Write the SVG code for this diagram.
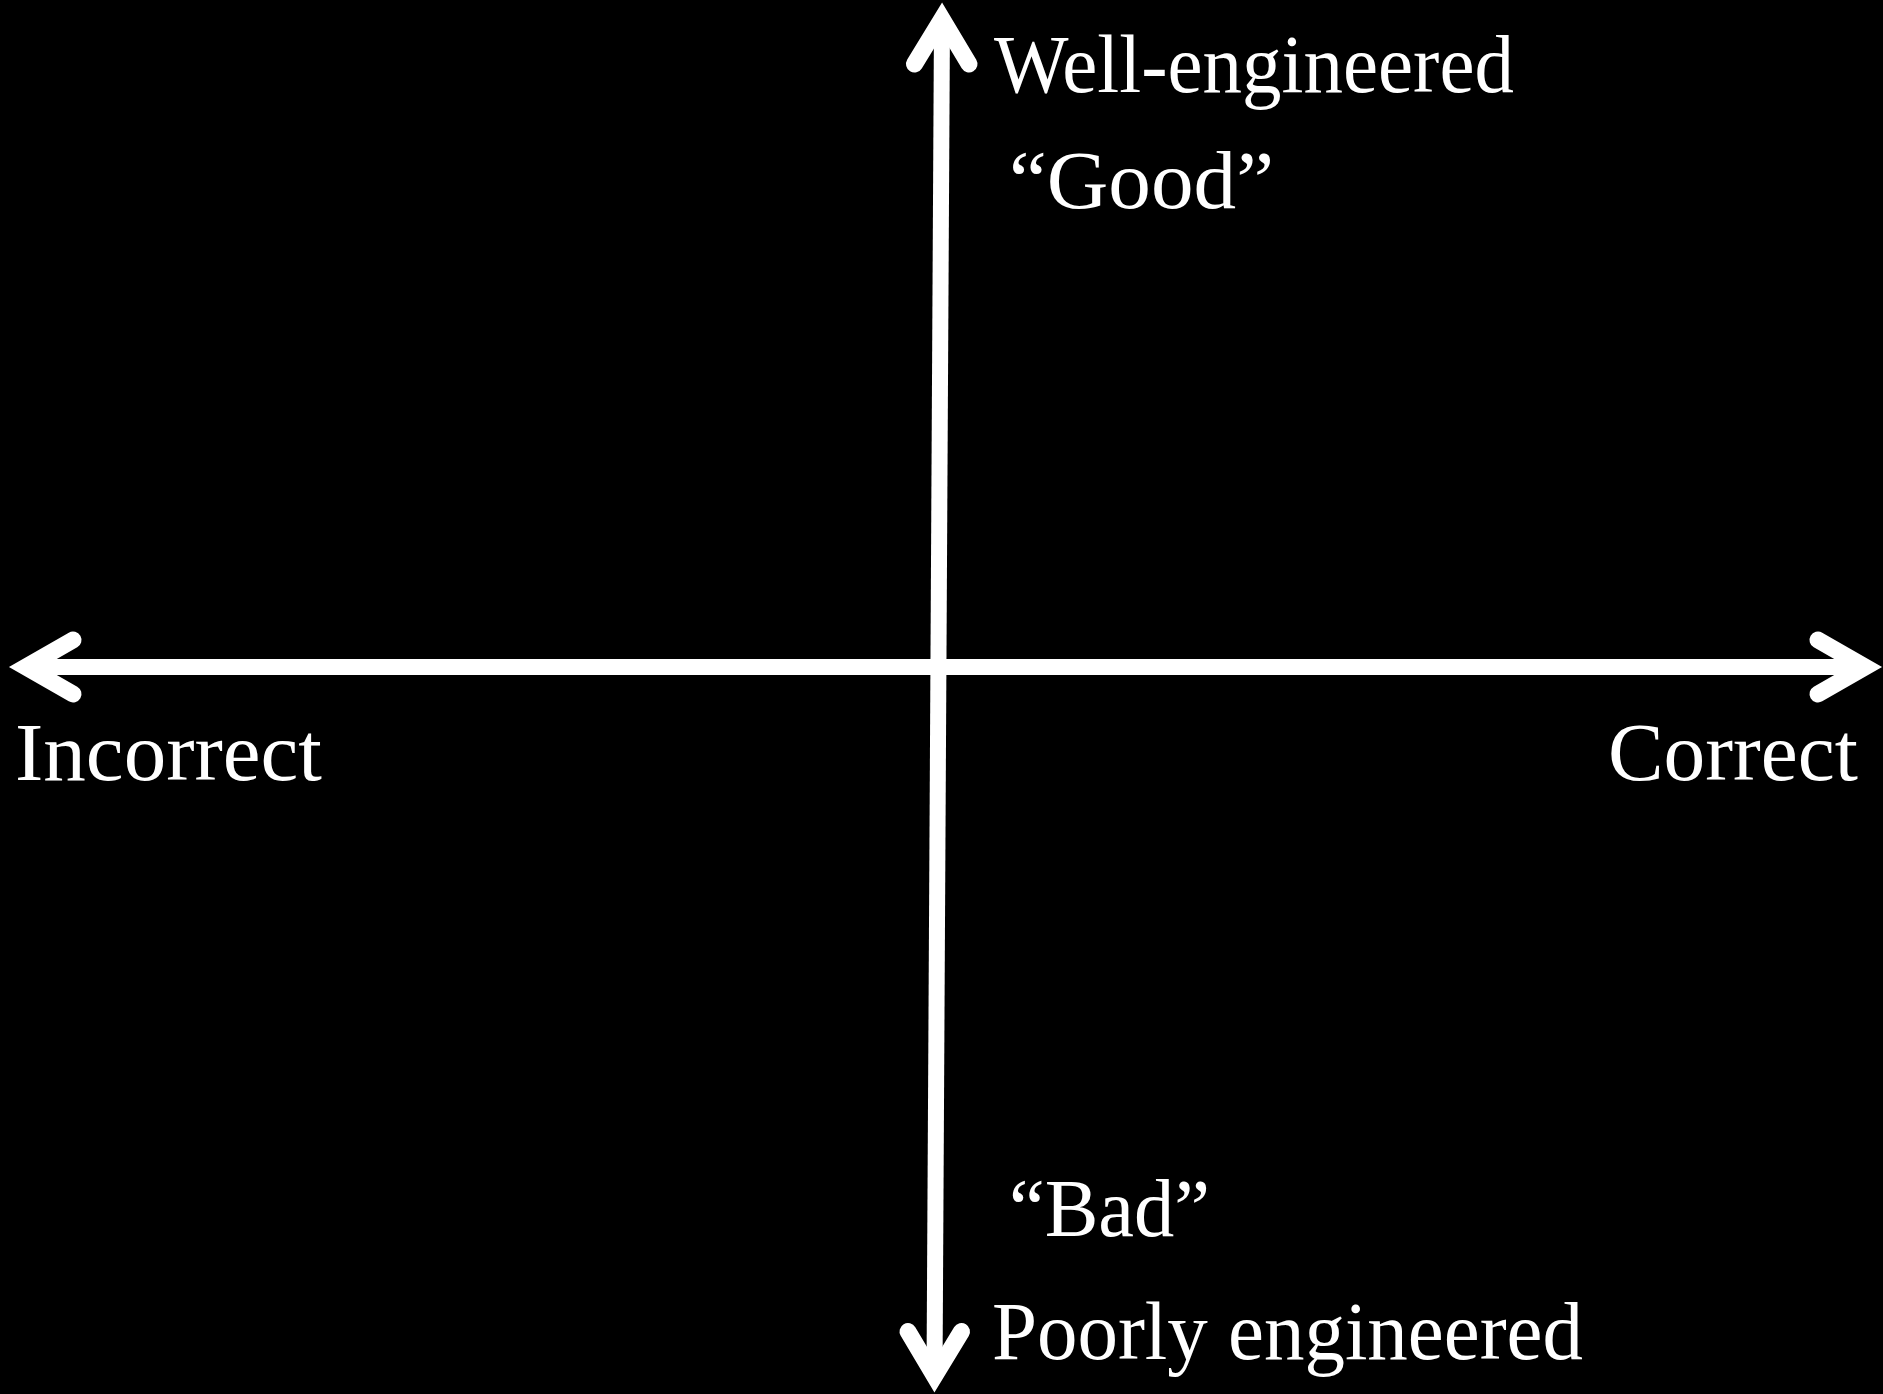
<svg xmlns="http://www.w3.org/2000/svg" width="1883" height="1394" viewBox="0 0 1883 1394">
<style>
.ax{fill:none;stroke:#ffffff;stroke-width:16}
.hd{fill:none;stroke:#ffffff;stroke-width:17;stroke-linecap:round;stroke-linejoin:miter;stroke-miterlimit:10}
.lb{fill:#ffffff;font-family:"Liberation Serif","DejaVu Serif",serif;font-size:82px}
</style>
<rect width="1883" height="1394" fill="#000000"/>
<g id="connectors">
<line class="ax" x1="26" y1="667" x2="1865" y2="667"/>
<polyline class="hd" points="73,640 26,667 73,694"/>
<polyline class="hd" points="1818,640 1865,667 1818,694"/>
<line class="ax" x1="942" y1="19" x2="934.5" y2="1376"/>
<polyline class="hd" points="914.5,64 942,19 969,64"/>
<polyline class="hd" points="908,1331.5 934.5,1376 961.5,1331.5"/>
</g>
<g id="label-well"><text class="lb" x="994" y="92" textLength="520" lengthAdjust="spacingAndGlyphs">Well-engineered</text></g>
<g id="label-good"><text class="lb" x="1009" y="208" textLength="265" lengthAdjust="spacingAndGlyphs">“Good”</text></g>
<g id="label-incorrect"><text class="lb" x="15" y="780" textLength="307" lengthAdjust="spacingAndGlyphs">Incorrect</text></g>
<g id="label-correct"><text class="lb" x="1608" y="780" textLength="250" lengthAdjust="spacingAndGlyphs">Correct</text></g>
<g id="label-bad"><text class="lb" x="1009" y="1236" textLength="201" lengthAdjust="spacingAndGlyphs">“Bad”</text></g>
<g id="label-poorly"><text class="lb" x="992" y="1359" textLength="591" lengthAdjust="spacingAndGlyphs">Poorly engineered</text></g>
</svg>
